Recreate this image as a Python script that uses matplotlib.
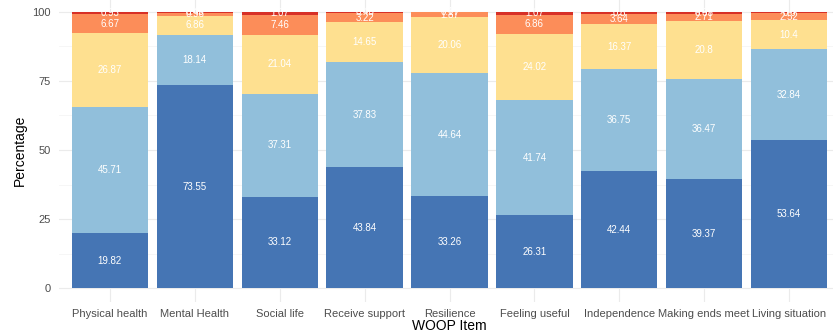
import matplotlib
matplotlib.use("Agg")
import matplotlib.pyplot as plt
import numpy as np

plt.rcParams['font.family'] = ['Liberation Sans', 'DejaVu Sans']

categories = ["Physical health", "Mental Health", "Social life", "Receive support",
              "Resilience", "Feeling useful", "Independence", "Making ends meet",
              "Living situation"]
# stacked bottom to top
s1 = [19.82, 73.55, 33.12, 43.84, 33.26, 26.31, 42.44, 39.37, 53.64]
s2 = [45.71, 18.14, 37.31, 37.83, 44.64, 41.74, 36.75, 36.47, 32.84]
s3 = [26.87, 6.86, 21.04, 14.65, 20.06, 24.02, 16.37, 20.8, 10.4]
s4 = [6.67, 0.96, 7.46, 3.22, 1.87, 6.86, 3.64, 2.71, 2.52]
s5 = [0.93, 0.49, 1.07, 0.46, 0.17, 1.07, 0.80, 0.65, 0.60]
series = [s1, s2, s3, s4, s5]
colors = ["#4575b4", "#91bfdb", "#fee090", "#fc8d59", "#d73027"]
yticks = [0, 25, 50, 75, 100]

W, H = 833, 335
fig = plt.figure(figsize=(W / 100, H / 100), dpi=100)
left, right = 59, 840
top, bottom = -2, 302
ax = fig.add_axes([left / W, 1 - bottom / H, (right - left) / W, (bottom - top) / H])

x = np.arange(1, len(categories) + 1)
base = np.zeros(len(categories))
for vals, c in zip(series, colors):
    vals = np.array(vals)
    ax.bar(x, vals, bottom=base, width=0.9, color=c, zorder=2, linewidth=0)
    for xi, b, v in zip(x, base, vals):
        ax.text(xi, b + v / 2, f"{v:g}", ha="center", va="center", color="white",
                fontsize=7, zorder=3)
    base += vals

ax.set_xlim(0.4, len(categories) + 0.6)
ax.set_ylim(-5, 105)
ax.set_yticks(yticks)
ax.set_yticks([12.5, 37.5, 62.5, 87.5], minor=True)
ax.set_xticks(x)
ax.set_xticklabels(categories)
ax.grid(True, which="major", color="#ebebeb", linewidth=0.8, zorder=0)
ax.grid(True, which="minor", axis="y", color="#f3f3f3", linewidth=0.5, zorder=0)
for s in ax.spines.values():
    s.set_visible(False)
ax.tick_params(axis="both", which="both", length=0, labelsize=8, labelcolor="#4d4d4d", pad=6)
ax.tick_params(axis="x", pad=5)
ax.set_ylabel("Percentage", fontsize=10, labelpad=4)
ax.set_xlabel("WOOP Item", fontsize=10, labelpad=0)

fig.savefig("out.png", dpi=100)
